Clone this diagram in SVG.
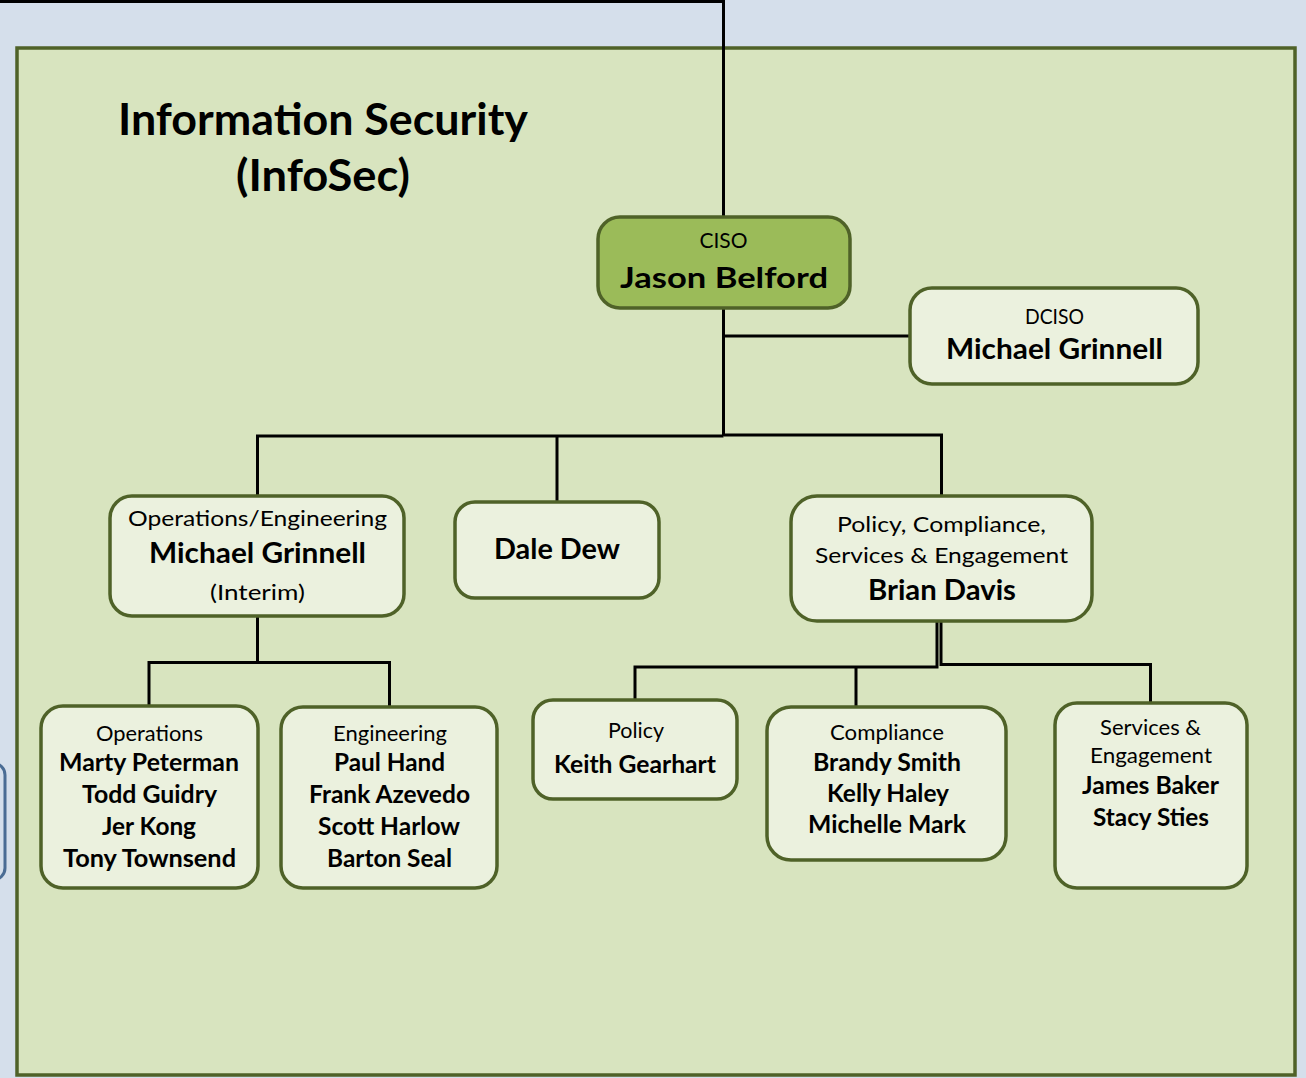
<svg xmlns="http://www.w3.org/2000/svg" width="1306" height="1078" viewBox="0 0 1306 1078">
<style>
.box{fill:#EBF1DE;stroke:#4F6228;stroke-width:3.5}
.ciso{fill:#9BBB59;stroke:#4F6228;stroke-width:3.5}
.t{font-family:Lato,"Open Sans","Liberation Sans",sans-serif;fill:#000;text-anchor:middle}
.r{font-weight:400;font-size:21.5px}
.b{font-weight:700;font-size:24px}
.bn{font-weight:700;font-size:28px}
.conn{fill:none;stroke:#000;stroke-width:3}
</style>
<rect x="0" y="0" width="1306" height="1078" fill="#D5DFEB"/>
<rect x="-40" y="763" width="45" height="117" rx="12" fill="#D5DFEB" stroke="#4A6C94" stroke-width="3"/>
<rect id="infosec-frame" x="17" y="48" width="1278" height="1027" fill="#D8E4BF" stroke="#4F6228" stroke-width="3.5"/>
<g id="title">
<text class="t" x="323" y="135" font-weight="700" font-size="43" textLength="410" lengthAdjust="spacingAndGlyphs">Information Security</text>
<text class="t" x="323" y="191" font-weight="700" font-size="43" textLength="174" lengthAdjust="spacingAndGlyphs">(InfoSec)</text>
</g>
<g id="connectors">
<path class="conn" d="M0 1.5 H723.5 V217"/>
<path class="conn" d="M723.5 308 V436"/>
<path class="conn" d="M723.5 336 H910"/>
<path class="conn" d="M723.5 436 H257.5 V496"/>
<path class="conn" d="M557 436 V501"/>
<path class="conn" d="M723.5 435 H941.5 V495"/>
<path class="conn" d="M257.5 617 V662.5"/>
<path class="conn" d="M149 706 V662.5 H389.5 V707"/>
<path class="conn" d="M937 622 V667 H635 V699"/>
<path class="conn" d="M941 622 V664.5 H1150.5 V703"/>
<path class="conn" d="M856 667 V707"/>
</g>
<g id="ciso">
<rect class="ciso" x="598" y="217" width="252" height="91" rx="22"/>
<text class="t r" x="723.5" y="248" font-size="20" textLength="48" lengthAdjust="spacingAndGlyphs">CISO</text>
<text class="t bn" x="724" y="288" font-size="30" textLength="208" lengthAdjust="spacingAndGlyphs">Jason Belford</text>
</g>
<g id="dciso">
<rect class="box" x="910" y="288" width="288" height="96" rx="22"/>
<text class="t r" x="1054.5" y="324" font-size="20" textLength="59" lengthAdjust="spacingAndGlyphs">DCISO</text>
<text class="t bn" x="1054.5" y="359" textLength="217" lengthAdjust="spacingAndGlyphs">Michael Grinnell</text>
</g>
<g id="ops-eng">
<rect class="box" x="110" y="496" width="294" height="120" rx="22"/>
<text class="t r" x="257.5" y="526" textLength="259" lengthAdjust="spacingAndGlyphs">Operations/Engineering</text>
<text class="t bn" x="257.5" y="563" textLength="217" lengthAdjust="spacingAndGlyphs">Michael Grinnell</text>
<text class="t r" x="257.5" y="600" textLength="95" lengthAdjust="spacingAndGlyphs">(Interim)</text>
</g>
<g id="dale-dew">
<rect class="box" x="455" y="502" width="204" height="96" rx="20"/>
<text class="t bn" x="557" y="559" textLength="126" lengthAdjust="spacingAndGlyphs">Dale Dew</text>
</g>
<g id="policy-compliance">
<rect class="box" x="791" y="496" width="301" height="125" rx="26"/>
<text class="t r" x="941.5" y="532" font-size="22" textLength="209" lengthAdjust="spacingAndGlyphs">Policy, Compliance,</text>
<text class="t r" x="941.5" y="563" font-size="22" textLength="253" lengthAdjust="spacingAndGlyphs">Services &amp; Engagement</text>
<text class="t bn" x="942" y="600" textLength="148" lengthAdjust="spacingAndGlyphs">Brian Davis</text>
</g>
<g id="operations">
<rect class="box" x="41" y="706" width="217" height="182" rx="22"/>
<text class="t r" x="149.5" y="741" textLength="107" lengthAdjust="spacingAndGlyphs">Operations</text>
<text class="t b" x="149" y="771" textLength="180" lengthAdjust="spacingAndGlyphs">Marty Peterman</text>
<text class="t b" x="149.5" y="803" textLength="135" lengthAdjust="spacingAndGlyphs">Todd Guidry</text>
<text class="t b" x="149" y="835" textLength="94" lengthAdjust="spacingAndGlyphs">Jer Kong</text>
<text class="t b" x="149.5" y="867" textLength="173" lengthAdjust="spacingAndGlyphs">Tony Townsend</text>
</g>
<g id="engineering">
<rect class="box" x="281" y="707" width="216" height="181" rx="22"/>
<text class="t r" x="390" y="741" textLength="114" lengthAdjust="spacingAndGlyphs">Engineering</text>
<text class="t b" x="389.5" y="771" textLength="111" lengthAdjust="spacingAndGlyphs">Paul Hand</text>
<text class="t b" x="389.5" y="803" textLength="161" lengthAdjust="spacingAndGlyphs">Frank Azevedo</text>
<text class="t b" x="389" y="835" textLength="142" lengthAdjust="spacingAndGlyphs">Scott Harlow</text>
<text class="t b" x="389.5" y="867" textLength="125" lengthAdjust="spacingAndGlyphs">Barton Seal</text>
</g>
<g id="policy">
<rect class="box" x="533" y="700" width="204" height="99" rx="20"/>
<text class="t r" x="636" y="738" textLength="56" lengthAdjust="spacingAndGlyphs">Policy</text>
<text class="t b" x="635" y="773" textLength="162" lengthAdjust="spacingAndGlyphs">Keith Gearhart</text>
</g>
<g id="compliance">
<rect class="box" x="767" y="707" width="239" height="153" rx="24"/>
<text class="t r" x="887" y="740" textLength="114" lengthAdjust="spacingAndGlyphs">Compliance</text>
<text class="t b" x="887" y="771" textLength="148" lengthAdjust="spacingAndGlyphs">Brandy Smith</text>
<text class="t b" x="888" y="802" textLength="122" lengthAdjust="spacingAndGlyphs">Kelly Haley</text>
<text class="t b" x="887" y="833" textLength="158" lengthAdjust="spacingAndGlyphs">Michelle Mark</text>
</g>
<g id="services">
<rect class="box" x="1055" y="703" width="192" height="185" rx="22"/>
<text class="t r" x="1150.5" y="735" textLength="101" lengthAdjust="spacingAndGlyphs">Services &amp;</text>
<text class="t r" x="1151" y="763" textLength="122" lengthAdjust="spacingAndGlyphs">Engagement</text>
<text class="t b" x="1150.5" y="794" textLength="137" lengthAdjust="spacingAndGlyphs">James Baker</text>
<text class="t b" x="1151" y="826" textLength="116" lengthAdjust="spacingAndGlyphs">Stacy Sties</text>
</g>
</svg>
